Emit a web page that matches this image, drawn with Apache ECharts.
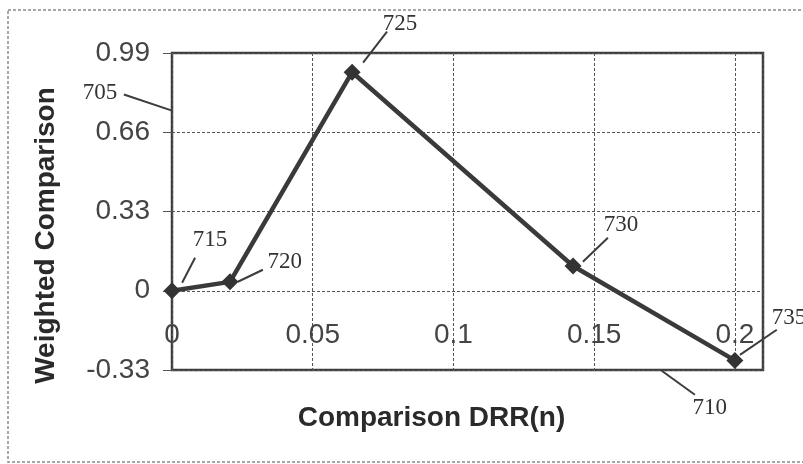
<!DOCTYPE html>
<html>
<head>
<meta charset="utf-8">
<title>Weighted Comparison</title>
<script src="https://cdn.jsdelivr.net/npm/echarts@6/dist/echarts.min.js"></script>
</head>
<body style="margin:0;background:#fff">
<div id="container" style="width:803px;height:464px"></div>
<script>
var drr = [0, 0.0206, 0.064, 0.1425, 0.2];
var weighted = [0, 0.037, 0.91, 0.103, -0.29];
var yTicks = [-0.33, 0, 0.33, 0.66, 0.99];
var xTicks = [0, 0.05, 0.1, 0.15, 0.2];

// reference numerals of the figure, positions in data units
var refNames = ['705', '710', '715', '720', '725', '730', '735'];
var refText = [[-0.0256, 0.825], [0.1911, -0.4875], [0.0135, 0.2125], [0.0401, 0.121], [0.081, 1.1125], [0.1595, 0.275], [0.2131, -0.1125]];
var refFrom = [[-0.0171, 0.817], [0.174, -0.333], [0.0036, 0.033], [0.0234, 0.0375], [0.0679, 0.95], [0.146, 0.121], [0.2018, -0.267]];
var refTo = [[0, 0.75], [0.1858, -0.433], [0.0082, 0.1375], [0.0323, 0.0875], [0.0764, 1.079], [0.1549, 0.221], [0.2149, -0.1625]];
var refAlign = ['center', 'center', 'center', 'center', 'center', 'center', 'left'];

var dom = document.getElementById('container');
var myChart = echarts.init(dom);

function fmt(v) {
    return String(+v.toFixed(2));
}

var points = [];
for (var i = 0; i < drr.length; i++) {
    points.push([drr[i], weighted[i]]);
}

var option = {
    animation: false,
    grid: {
        left: 172, top: 53, right: 40, bottom: 94,
        show: true,
        borderColor: '#3c3c3c',
        borderWidth: 2.5
    },
    xAxis: {
        type: 'value',
        min: xTicks[0],
        max: 0.21,
        interval: 0.05,
        name: 'Comparison DRR(n)',
        nameLocation: 'middle',
        nameGap: 34,
        nameTextStyle: {
            fontFamily: 'Liberation Sans', fontWeight: 'bold', fontSize: 28,
            color: '#2a2a2a', padding: [0, 72, 0, 0]
        },
        axisLine: { show: false },
        axisTick: { show: false },
        axisLabel: {
            margin: -49,
            showMaxLabel: false,
            fontFamily: 'Liberation Sans', fontSize: 28, color: '#444',
            formatter: fmt
        },
        splitLine: { show: true, lineStyle: { color: '#555', width: 1, type: [3, 2] } }
    },
    yAxis: {
        type: 'value',
        min: yTicks[0],
        max: yTicks[yTicks.length - 1],
        interval: 0.33,
        name: 'Weighted Comparison',
        nameLocation: 'middle',
        nameGap: 112,
        nameTextStyle: {
            fontFamily: 'Liberation Sans', fontWeight: 'bold', fontSize: 28,
            color: '#2a2a2a', padding: [0, 48, 0, 0]
        },
        axisLine: { show: false },
        axisTick: { show: true, length: 9, lineStyle: { color: '#555' } },
        axisLabel: {
            margin: 22,
            fontFamily: 'Liberation Sans', fontSize: 28, color: '#444',
            formatter: fmt
        },
        splitLine: { show: true, lineStyle: { color: '#555', width: 1, type: [3, 2] } }
    },
    series: [{
        type: 'line',
        data: points,
        symbol: 'diamond',
        symbolSize: 17,
        showAllSymbol: true,
        lineStyle: { color: '#3a3a3a', width: 4.5 },
        itemStyle: { color: '#333' },
        clip: false
    }]
};
myChart.setOption(option);

// outer frame and reference numerals with leader lines
var graphics = [{
    type: 'rect',
    shape: { x: 8, y: 10, width: 800, height: 452 },
    style: { fill: 'none', stroke: '#8a8a8a', lineWidth: 1.5, lineDash: [3, 2] },
    silent: true
}];
for (var k = 0; k < refNames.length; k++) {
    var t = myChart.convertToPixel({ gridIndex: 0 }, refText[k]);
    var a = myChart.convertToPixel({ gridIndex: 0 }, refFrom[k]);
    var b = myChart.convertToPixel({ gridIndex: 0 }, refTo[k]);
    graphics.push({
        type: 'line',
        shape: { x1: a[0], y1: a[1], x2: b[0], y2: b[1] },
        style: { stroke: '#3c3c3c', lineWidth: 2 },
        silent: true
    });
    graphics.push({
        type: 'text',
        x: t[0], y: t[1],
        style: {
            text: refNames[k],
            font: '23px "Liberation Serif"',
            fill: '#333',
            align: refAlign[k],
            verticalAlign: 'middle'
        },
        silent: true
    });
}
myChart.setOption({ graphic: graphics });
</script>
</body>
</html>
